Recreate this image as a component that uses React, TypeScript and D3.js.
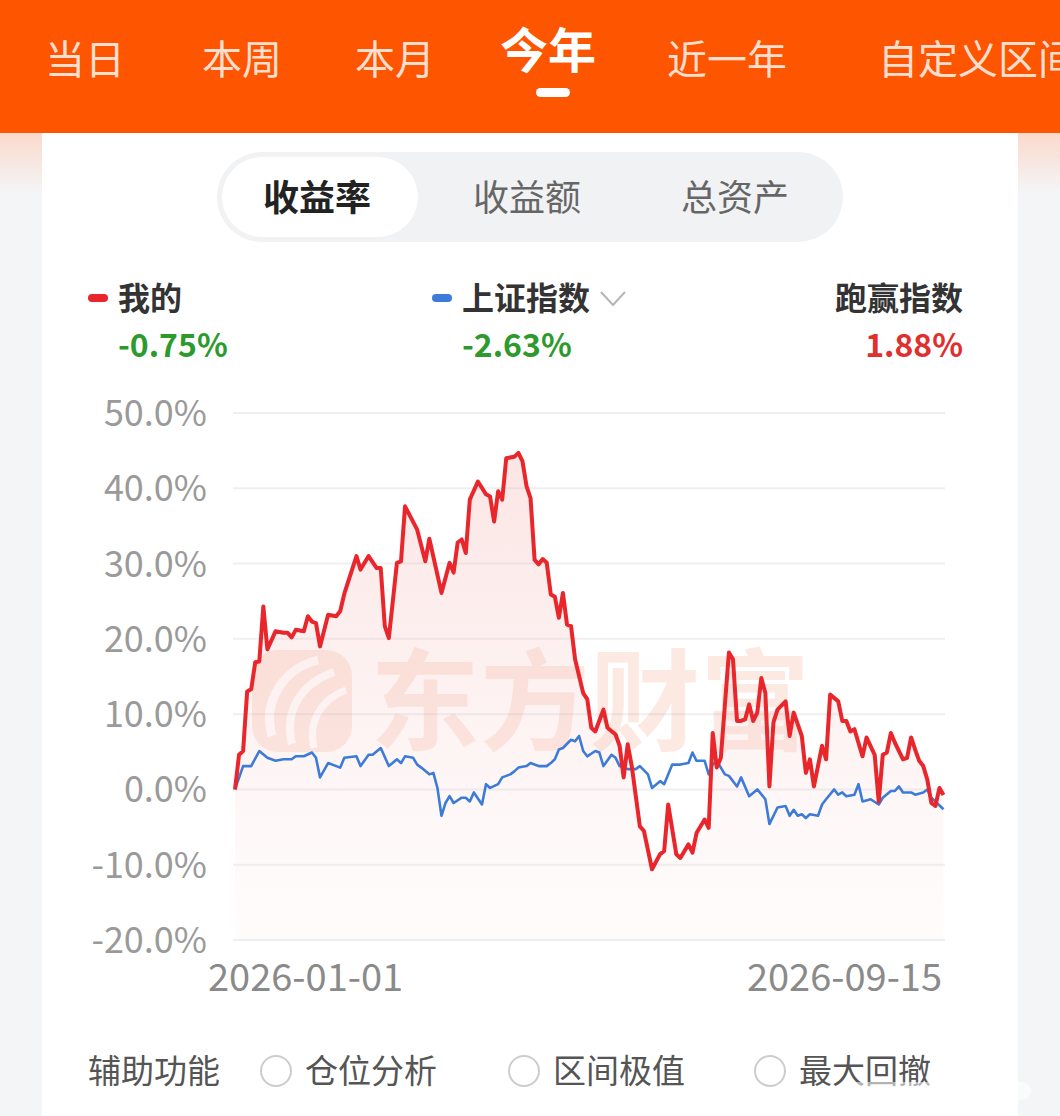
import React from "react";
import * as d3 from "d3";

const tabs = ["当日", "本周", "本月", "今年", "近一年", "自定义区间"];
const segTabs = ["收益率", "收益额", "总资产"];
const yTicks = [50, 40, 30, 20, 10, 0, -10, -20];
const xLabels = ["2026-01-01", "2026-09-15"];
const auxItems = ["仓位分析", "区间极值", "最大回撤"];
const dayCount = 176;

// [trading day index, return %]
const mine: [number, number][] = [
  [0, 0], [1, 4.6], [2, 5.1], [3, 13.0], [4, 13.3], [5, 16.9], [6, 17.0], [7, 24.3], [8, 18.6],
  [10, 21.0], [12, 20.8], [13, 20.8], [14, 20.2], [15, 21.2], [17, 21.0], [18, 23.0], [19, 22.3],
  [20, 22.1], [21, 19.0], [23, 23.2], [25, 23.0], [26, 23.7], [27, 26.0], [30, 31.0], [31, 29.2],
  [33, 31.0], [35, 29.4], [36, 29.4], [37, 21.7], [38, 20.1], [40, 30.1], [41, 30.3], [42, 37.6],
  [45, 34.5], [47, 30.3], [48, 33.3], [51, 26.1], [53, 30.1], [54, 28.8], [55, 32.8], [56, 33.2],
  [57, 31.4], [58, 38.5], [60, 40.9], [62, 39.2], [63, 38.9], [64, 35.6], [65, 39.6], [66, 38.5],
  [67, 44.0], [69, 44.2], [70, 44.7], [71, 43.6], [72, 40.3], [73, 38.7], [74, 30.5], [75, 29.9],
  [76, 30.6], [77, 30.1], [78, 25.9], [79, 25.6], [80, 22.8], [81, 26.1], [82, 21.9], [83, 21.7],
  [84, 17.3], [86, 12.8], [87, 12.0], [88, 8.2], [89, 7.7], [91, 10.6], [92, 8.2], [94, 7.3],
  [95, 5.8], [96, 1.6], [97, 6.0], [98, 3.1], [100, -4.9], [101, -5.5], [103, -10.6], [105, -8.6],
  [106, -8.2], [107, -2.0], [109, -8.6], [110, -9.1], [112, -7.3], [113, -8.4], [114, -5.8],
  [116, -4.0], [117, -5.1], [118, 7.5], [119, 2.9], [120, 4.2], [122, 18.2], [123, 17.3], [124, 9.1],
  [125, 9.1], [126, 9.3], [127, 11.3], [128, 9.1], [129, 10.2], [130, 14.8], [131, 12.8], [132, 0.4],
  [133, 8.9], [134, 10.6], [136, 11.7], [137, 7.1], [138, 10.2], [140, 7.1], [141, 2.2], [142, 4.0],
  [143, 0.4], [145, 5.8], [146, 4.0], [147, 12.6], [149, 11.7], [150, 9.1], [151, 9.1], [152, 7.7],
  [153, 8.0], [155, 4.4], [156, 6.9], [158, 4.6], [159, -1.6], [160, 4.6], [161, 4.9], [162, 7.5],
  [163, 6.2], [165, 4.0], [166, 4.2], [167, 6.9], [168, 5.3], [169, 3.8], [170, 3.1], [171, 1.3],
  [172, -1.8], [173, -2.2], [174, 0.2], [175, -0.75],
];

const index: [number, number][] = [
  [0, 0], [2, 3.1], [4, 3.1], [6, 5.1], [8, 4.2], [10, 3.8], [12, 4.0], [14, 4.0], [15, 4.4],
  [17, 4.4], [19, 4.9], [20, 4.2], [21, 1.6], [23, 3.5], [26, 2.9], [27, 4.2], [30, 4.4], [31, 3.1],
  [33, 4.6], [34, 4.6], [36, 5.5], [38, 3.1], [40, 4.0], [41, 3.5], [42, 4.4], [44, 4.2], [45, 3.3],
  [46, 2.9], [48, 2.0], [49, 2.2], [50, 0.2], [51, -3.5], [52, -1.8], [53, -0.9], [54, -1.8],
  [56, -1.1], [57, -1.1], [58, -1.6], [59, -0.4], [61, -2.0], [62, 0.7], [63, 0.2], [65, 0.7],
  [66, 1.6], [68, 2.0], [69, 2.4], [70, 2.9], [72, 3.1], [73, 3.5], [75, 3.1], [77, 3.1], [78, 3.5],
  [79, 4.0], [80, 5.3], [81, 5.5], [83, 6.6], [84, 6.4], [85, 7.1], [86, 5.1], [87, 4.4], [89, 5.1],
  [90, 4.9], [91, 3.1], [93, 4.6], [94, 4.2], [95, 3.1], [97, 2.7], [99, 2.7], [100, 3.1], [102, 2.0],
  [103, 0.2], [105, 1.1], [106, 0.7], [108, 3.3], [110, 3.3], [112, 3.5], [113, 4.9], [114, 3.8],
  [116, 3.8], [117, 2.0], [118, 3.3], [119, 3.8], [121, 2.0], [122, 1.8], [124, 0.4], [125, 1.6],
  [127, -0.9], [129, 0], [131, -1.3], [132, -4.6], [134, -2.4], [136, -2.2], [137, -3.5], [138, -2.7],
  [139, -3.5], [140, -3.3], [141, -3.8], [142, -3.3], [144, -3.5], [145, -2.0], [146, -1.3], [148, 0],
  [149, -0.7], [150, -0.4], [151, -0.9], [153, -0.7], [154, 0.7], [155, -1.6], [157, -1.3], [159, -2.0],
  [160, -1.1], [162, -0.2], [163, -0.2], [164, 0.4], [165, -0.4], [167, -0.4], [168, -0.7], [170, -0.4],
  [171, 0], [172, -1.1], [175, -2.63],
];

const mineReturn = "-0.75%";
const indexReturn = "-2.63%";
const beatReturn = "1.88%";

const FONT = "'Noto Sans CJK SC', 'Noto Sans', sans-serif";

export default function App() {
  const x = d3.scaleLinear().domain([0, dayCount - 1]).range([235, 943.5]);
  const y = d3.scaleLinear().domain([-20, 50]).range([940, 413]);
  const line = d3
    .line<[number, number]>()
    .x((d) => x(d[0]))
    .y((d) => y(d[1]));
  const area = d3
    .area<[number, number]>()
    .x((d) => x(d[0]))
    .y0(y(-20))
    .y1((d) => y(d[1]));

  const tabX = [85, 242, 395, 548, 727, 878];
  const segX = [317, 527, 735];
  const auxX = [276, 524, 770];

  return (
    <svg
      width={1060}
      height={1116}
      style={{ position: "absolute", left: 0, top: 0, display: "block" }}
      fontFamily={FONT}
    >
      <defs>
        <linearGradient id="areaGrad" x1="0" y1="0" x2="0" y2="1">
          <stop offset="0%" stopColor="#f3a8a6" stopOpacity={0.3} />
          <stop offset="60%" stopColor="#f6c3c0" stopOpacity={0.18} />
          <stop offset="100%" stopColor="#fbe6e4" stopOpacity={0.12} />
        </linearGradient>
        <linearGradient id="sideGrad" x1="0" y1="0" x2="0" y2="1">
          <stop offset="0%" stopColor="#fbd9cc" />
          <stop offset="100%" stopColor="#f4f5f7" />
        </linearGradient>
        <clipPath id="topClip">
          <rect x={0} y={0} width={1060} height={133} />
        </clipPath>
      </defs>

      {/* background */}
      <rect x={0} y={0} width={1060} height={1116} fill="#f4f5f7" />
      <rect x={0} y={133} width={1060} height={60} fill="url(#sideGrad)" />
      <rect x={42} y={120} width={976} height={996} fill="#ffffff" />

      {/* top bar */}
      <rect x={0} y={0} width={1060} height={133} fill="#fe5500" />
      <g clipPath="url(#topClip)">
        {tabs.map((t, i) => (
          <text
            key={t}
            x={tabX[i]}
            y={i === 3 ? 68 : 74}
            textAnchor={i === 5 ? "start" : "middle"}
            fontSize={i === 3 ? 48 : 40}
            fontWeight={i === 3 ? 700 : 400}
            fill={i === 3 ? "#ffffff" : "rgba(255,255,255,0.82)"}
          >
            {t}
          </text>
        ))}
      </g>
      <rect x={536} y={88} width={34} height={9} rx={4.5} fill="#ffffff" />

      {/* segmented control */}
      <rect x={217} y={152} width={626} height={90} rx={45} fill="#f1f2f4" />
      <rect x={222} y={157} width={196} height={80} rx={40} fill="#ffffff" />
      {segTabs.map((t, i) => (
        <text
          key={t}
          x={segX[i]}
          y={211}
          textAnchor="middle"
          fontSize={36}
          fontWeight={i === 0 ? 700 : 400}
          fill={i === 0 ? "#222222" : "#666666"}
        >
          {t}
        </text>
      ))}

      {/* legend */}
      <rect x={88} y={294} width={20} height={8} rx={4} fill="#e8262b" />
      <text x={118} y={310} fontSize={32} fontWeight={700} fill="#333333">我的</text>
      <text x={118} y={357} fontSize={32} fontWeight={700} fill="#2c9a2c">{mineReturn}</text>

      <rect x={432} y={294} width={20} height={8} rx={4} fill="#3d7bd9" />
      <text x={462} y={310} fontSize={32} fontWeight={700} fill="#333333">上证指数</text>
      <path d="M601,292 L613,305 L625,292" fill="none" stroke="#b5b5b5" strokeWidth={2} />
      <text x={462} y={357} fontSize={32} fontWeight={700} fill="#2c9a2c">{indexReturn}</text>

      <text x={963} y={310} textAnchor="end" fontSize={32} fontWeight={700} fill="#333333">跑赢指数</text>
      <text x={963} y={357} textAnchor="end" fontSize={32} fontWeight={700} fill="#e0302e">{beatReturn}</text>

      {/* grid + y labels */}
      {yTicks.map((t) => (
        <g key={t}>
          <line x1={233} x2={945} y1={y(t)} y2={y(t)} stroke="#eeeff2" strokeWidth={2} />
          <text
            x={207}
            y={y(t)}
            dy="0.36em"
            textAnchor="end"
            fontSize={36}
            fill="#9a9a9a"
          >
            {t.toFixed(1) + "%"}
          </text>
        </g>
      ))}

      {/* watermark */}
      <g opacity={0.14}>
        <rect x={252} y={650} width={100} height={102} rx={26} fill="#f06a3a" />
        <path d="M272,736 C262,700 285,668 318,660" fill="none" stroke="#ffffff" strokeWidth={9} />
        <path d="M292,744 C284,712 300,684 334,672" fill="none" stroke="#ffffff" strokeWidth={8} />
        <path d="M314,748 C308,722 320,700 346,690" fill="none" stroke="#ffffff" strokeWidth={7} />
        <text x={370} y={742} fontSize={110} fontWeight={700} fill="#f06a3a">东方财富</text>
      </g>

      {/* series */}
      <path d={area(mine) ?? ""} fill="url(#areaGrad)" />
      <path d={line(index) ?? ""} fill="none" stroke="#3d7bd9" strokeWidth={2.6} strokeLinejoin="round" />
      <path d={line(mine) ?? ""} fill="none" stroke="#e8262b" strokeWidth={4} strokeLinejoin="round" />

      {/* x labels */}
      <text x={208} y={991} fontSize={38} fill="#8a8a8a">{xLabels[0]}</text>
      <text x={942} y={991} textAnchor="end" fontSize={38} fill="#8a8a8a">{xLabels[1]}</text>

      {/* aux */}
      <text x={88} y={1083} fontSize={33} fill="#555555">辅助功能</text>
      {auxItems.map((t, i) => (
        <g key={t}>
          <circle cx={auxX[i]} cy={1071} r={15} fill="none" stroke="#cccccc" strokeWidth={2} />
          <text x={auxX[i] + 29} y={1083} fontSize={33} fill="#555555">{t}</text>
        </g>
      ))}
      <rect x={846} y={1082} width={185} height={18} rx={9} fill="#ffffff" opacity={0.55} />
    </svg>
  );
}
